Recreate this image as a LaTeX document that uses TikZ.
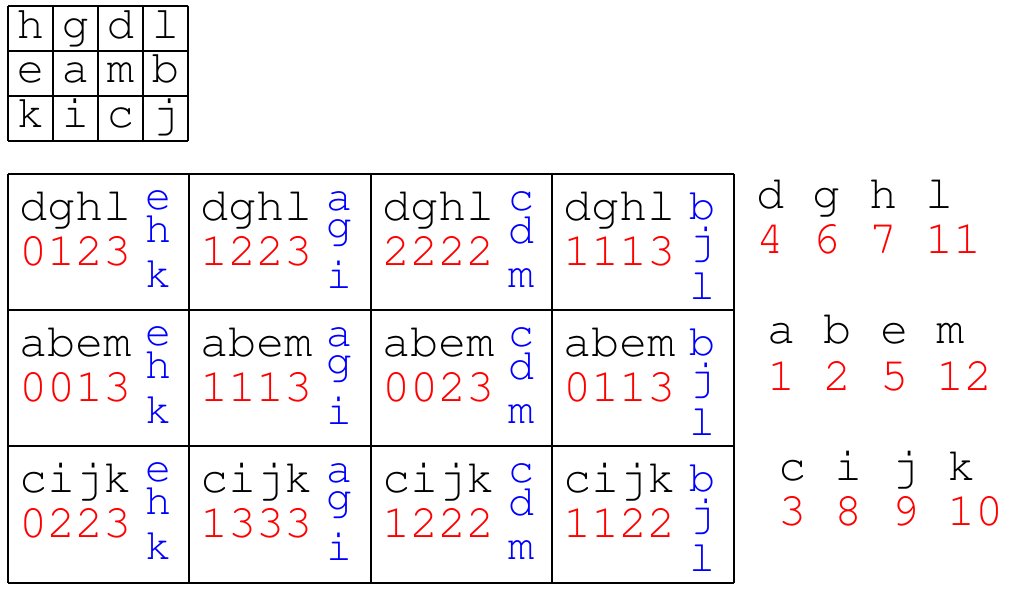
\documentclass[tikz,border=0pt]{standalone}
\usepackage[T1,TU]{fontenc}
\newcommand\courfont[1]{\fontencoding{T1}\fontfamily{pcr}\fontseries{m}\fontshape{n}\fontsize{#1}{#1}\selectfont}
\definecolor{numred}{RGB}{255,0,0}
\definecolor{letblue}{RGB}{0,0,255}
\begin{document}
\begin{tikzpicture}[x=1pt,y=-1pt,
  gridline/.style={line width=1.6pt, black},
  blk/.style={inner sep=0pt, anchor=base west, text=black, font=\courfont{47}},
  rednum/.style={inner sep=0pt, anchor=base west, text=numred, font=\courfont{47}},
  bluelet/.style={inner sep=0pt, anchor=base, text=letblue, font=\courfont{44}},
  toplet/.style={inner sep=0pt, anchor=base, text=black, font=\courfont{46}}]
\useasboundingbox (0,0) rectangle (1023,594);

% top small grid
\foreach \x in {8,53,98,143,188} \draw[gridline] (\x,6) -- (\x,141);
\foreach \y in {6,51,96,141} \draw[gridline] (8,\y) -- (188,\y);
\foreach \ch/\x/\y [count=\i] in {h/30.5/39, g/75.5/39, d/120.5/39, l/165.5/39,
                                  e/30.5/83, a/75.5/83, m/120.5/83, b/165.5/83,
                                  k/30.5/128, i/75.5/128, c/120.5/128, j/165.5/128}
  \node[toplet] (g\i) at (\x,\y) {\ch};

% main grid
\foreach \x in {8,189,371,552,734} \draw[gridline] (\x,174) -- (\x,583);
\foreach \y in {174,310,446,583} \draw[gridline] (8,\y) -- (734,\y);

\foreach \c/\x/\ba/\bb/\bc/\ya/\yb/\yc in {1/8/e/h/k/35/68/113, 2/189/a/g/i/36/64/114,
      3/371/c/d/m/36/69/113, 4/552/b/j/l/45/80/125} {
  \foreach \r/\y/\lab in {1/174/dghl, 2/310/abem, 3/446/cijk} {
    \node[blk] (t\r\c) at (\x+11,\y+46) {\lab};
    \node[bluelet] (ba\r\c) at (\x+150,\y+\ya) {\ba};
    \node[bluelet] (bb\r\c) at (\x+150,\y+\yb) {\bb};
    \node[bluelet] (bc\r\c) at (\x+150,\y+\yc) {\bc};
  }
}
\node[rednum] (n11) at (19,265) {0123};
\node[rednum] (n12) at (200,265) {1223};
\node[rednum] (n13) at (382,265) {2222};
\node[rednum] (n14) at (563,265) {1113};
\node[rednum] (n21) at (19,401) {0013};
\node[rednum] (n22) at (200,401) {1113};
\node[rednum] (n23) at (382,401) {0023};
\node[rednum] (n24) at (563,401) {0113};
\node[rednum] (n31) at (19,537) {0223};
\node[rednum] (n32) at (200,537) {1333};
\node[rednum] (n33) at (382,537) {1222};
\node[rednum] (n34) at (563,537) {1122};

% right side legend
\node[blk] (k1) at (756,208) {d g h l};
\node[rednum] (v1) at (756,253) {4 6 7 11};
\node[blk] (k2) at (767,343) {a b e m};
\node[rednum] (v2) at (767,390) {1 2 5 12};
\node[blk] (k3) at (778,480) {c i j k};
\node[rednum] (v3) at (778,525) {3 8 9 10};
\end{tikzpicture}
\end{document}
